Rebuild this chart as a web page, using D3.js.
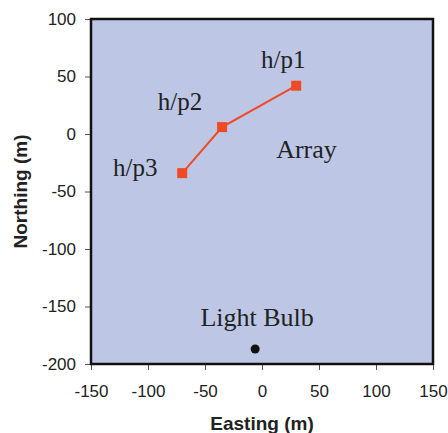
<!DOCTYPE html>
<html>
<head>
<meta charset="utf-8">
<script src="https://cdn.jsdelivr.net/npm/d3@7"></script>
<style>
  body { margin: 0; background: #fff; }
</style>
</head>
<body>
<div id="chart"></div>
<script>
// well positions (m)
var wellNames = ["h/p1", "h/p2", "h/p3"];
var wellEasting = [30, -35, -70];
var wellNorthing = [42, 6, -34];
// light bulb source
var bulbEasting = -6;
var bulbNorthing = -187;
// tick labels
var xTicks = [-150, -100, -50, 0, 50, 100, 150];
var yTicks = [-200, -150, -100, -50, 0, 50, 100];

var margin = { top: 19, right: 15, bottom: 69, left: 91 },
    width = 448 - margin.left - margin.right,
    height = 433 - margin.top - margin.bottom;

var svg = d3.select("#chart").append("svg")
    .attr("width", 448)
    .attr("height", 433);

var g = svg.append("g")
    .attr("transform", "translate(" + margin.left + "," + margin.top + ")");

var x = d3.scaleLinear().domain([-150, 150]).range([0, width]);
var y = d3.scaleLinear().domain([-200, 100]).range([height, 0]);

// plot background
g.append("rect")
    .attr("width", width)
    .attr("height", height)
    .attr("fill", "#bdc7e5");

// axes (plain hyphen for negatives, like the original)
var fmt = function (d) { return String(d); };
var xAxis = g.append("g")
    .attr("transform", "translate(0," + height + ")")
    .call(d3.axisBottom(x).tickValues(xTicks).tickFormat(fmt).tickSize(6).tickPadding(15));

var yAxis = g.append("g")
    .call(d3.axisLeft(y).tickValues(yTicks).tickFormat(fmt).tickSize(6).tickPadding(9));

[xAxis, yAxis].forEach(function (a) {
    a.select(".domain").remove();
    a.selectAll(".tick line").attr("stroke", "#555").attr("stroke-width", 1);
    a.selectAll(".tick text")
        .attr("font-family", "Liberation Sans, Arial, sans-serif")
        .attr("font-size", "17px")
        .attr("fill", "#222");
});

// frame
g.append("rect")
    .attr("width", width)
    .attr("height", height)
    .attr("fill", "none")
    .attr("stroke", "#111")
    .attr("stroke-width", 2.5);

// axis titles
svg.append("text")
    .attr("x", margin.left + width / 2)
    .attr("y", 430)
    .attr("text-anchor", "middle")
    .attr("font-family", "Liberation Sans, Arial, sans-serif")
    .attr("font-size", "19px")
    .attr("font-weight", "bold")
    .attr("fill", "#222")
    .text("Easting (m)");

svg.append("text")
    .attr("transform", "translate(27," + (margin.top + height / 2) + ") rotate(-90)")
    .attr("text-anchor", "middle")
    .attr("font-family", "Liberation Sans, Arial, sans-serif")
    .attr("font-size", "19px")
    .attr("font-weight", "bold")
    .attr("fill", "#222")
    .text("Northing (m)");

// wells
var wells = wellNames.map(function (n, i) {
    return { name: n, e: wellEasting[i], n: wellNorthing[i] };
});

g.append("path")
    .datum(wells)
    .attr("fill", "none")
    .attr("stroke", "#f04a24")
    .attr("stroke-width", 2)
    .attr("d", d3.line()
        .x(function (d) { return x(d.e); })
        .y(function (d) { return y(d.n); }));

var ms = 10;
g.selectAll(".well")
    .data(wells)
    .join("rect")
    .attr("class", "well")
    .attr("x", function (d) { return x(d.e) - ms / 2; })
    .attr("y", function (d) { return y(d.n) - ms / 2; })
    .attr("width", ms)
    .attr("height", ms)
    .attr("fill", "#f04a24");

// labels (offsets in px from marker)
var labelDx = [-13, -42, -47];
var labelDy = [-18, -17, 3];
var serif = "Liberation Serif, Times New Roman, serif";
g.selectAll(".wlabel")
    .data(wells)
    .join("text")
    .attr("class", "wlabel")
    .attr("x", function (d, i) { return x(d.e) + labelDx[i]; })
    .attr("y", function (d, i) { return y(d.n) + labelDy[i]; })
    .attr("text-anchor", "middle")
    .attr("font-family", serif)
    .attr("font-size", "25px")
    .attr("fill", "#222")
    .text(function (d) { return d.name; });

g.append("text")
    .attr("x", x(39))
    .attr("y", y(-21))
    .attr("text-anchor", "middle")
    .attr("font-family", serif)
    .attr("font-size", "26px")
    .attr("fill", "#222")
    .text("Array");

// light bulb
g.append("circle")
    .attr("cx", x(bulbEasting))
    .attr("cy", y(bulbNorthing))
    .attr("r", 4.5)
    .attr("fill", "#111");

g.append("text")
    .attr("x", x(bulbEasting) + 2)
    .attr("y", y(bulbNorthing) - 23)
    .attr("text-anchor", "middle")
    .attr("font-family", serif)
    .attr("font-size", "26px")
    .attr("fill", "#222")
    .text("Light Bulb");
</script>
</body>
</html>
